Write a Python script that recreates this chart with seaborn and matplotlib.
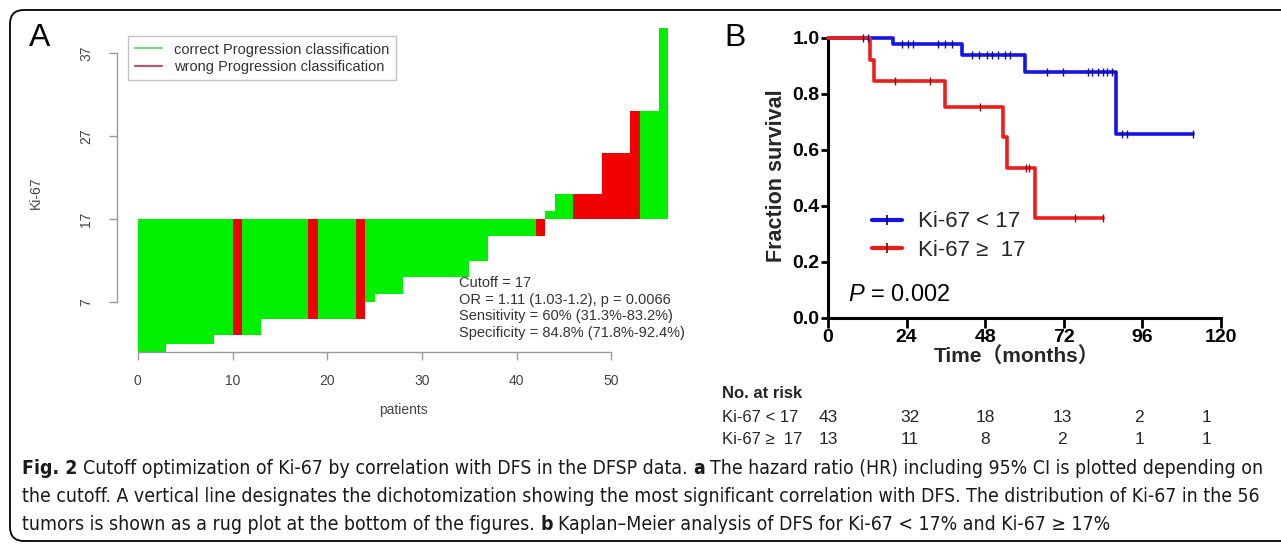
import numpy as np
import pandas as pd
import matplotlib
matplotlib.use("Agg")
import matplotlib.pyplot as plt
import seaborn as sns
from matplotlib.lines import Line2D
from matplotlib.patches import FancyBboxPatch
from matplotlib.transforms import IdentityTransform
from matplotlib import font_manager as fm

# ---------------- Panel A data ----------------
cutoff = 17
ki67_values = [1, 1, 1, 2, 2, 2, 2, 2, 3, 3, 3, 3, 3,
               5, 5, 5, 5, 5, 5, 5, 5, 5, 5, 5, 7, 8, 8, 8,
               10, 10, 10, 10, 10, 10, 10, 12, 12,
               15, 15, 15, 15, 15, 15, 18, 20, 20, 20, 20, 20,
               25, 25, 25, 30, 30, 30, 40]
# c = correct Progression classification, w = wrong
class_codes = list("ccccccccccwcccccccwccccwccccccccccccccccccwcccwwwwwwwccc")
legend_labels_A = ["correct Progression classification", "wrong Progression classification"]
xticks_A = [0, 10, 20, 30, 40, 50]
yticks_A = [7, 17, 27, 37]
stats_text = ["Cutoff = 17", "OR = 1.11 (1.03-1.2), p = 0.0066",
              "Sensitivity = 60% (31.3%-83.2%)", "Specificity = 84.8% (71.8%-92.4%)"]

# ---------------- Panel B data ----------------
low_time = [0, 19.8, 41.0, 60.2, 87.9, 111.5]
low_surv = [1.0, 0.977, 0.939, 0.877, 0.658, 0.658]
low_censor = [10.7, 12.2, 22.6, 24.4, 26.0, 33.6, 35.7, 37.9, 44.0, 46.0, 48.5, 50.0,
              52.0, 54.0, 55.6, 66.9, 71.7, 79.4, 80.6, 82.4, 84.0, 85.2, 86.7,
              89.8, 91.3, 111.5]
high_time = [0, 12.8, 14.0, 35.7, 53.4, 54.7, 63.2, 84.0]
high_surv = [1.0, 0.923, 0.846, 0.752, 0.645, 0.537, 0.358, 0.358]
high_censor = [20.5, 31.1, 46.4, 60.5, 61.5, 75.4, 84.0]
group_labels = ["Ki-67 < 17", "Ki-67 \u2265  17"]
xticks_B = [0, 24, 48, 72, 96, 120]
yticks_B = [0.0, 0.2, 0.4, 0.6, 0.8, 1.0]
risk_low = [43, 32, 18, 13, 2, 1]
risk_high = [13, 11, 8, 2, 1, 1]
risk_x = [0, 25, 48, 71.5, 95, 115.5]

caption_lines = [
    [("Fig. 2", "bold"), ("Cutoff optimization of Ki-67 by correlation with DFS in the DFSP data.", "normal"),
     ("a", "bold"), ("The hazard ratio (HR) including 95% CI is plotted depending on", "normal")],
    [("the cutoff. A vertical line designates the dichotomization showing the most significant correlation with DFS. The distribution of Ki-67 in the 56", "normal")],
    [("tumors is shown as a rug plot at the bottom of the figures.", "normal"), ("b", "bold"),
     ("Kaplan\u2013Meier analysis of DFS for Ki-67 < 17% and Ki-67 \u2265 17%", "normal")],
]

# ---------------- style ----------------
sns.set_style("ticks")
plt.rcParams["font.family"] = ["Liberation Sans", "DejaVu Sans"]
plt.rcParams["mathtext.fontset"] = "custom"
plt.rcParams["mathtext.rm"] = "Liberation Sans"
plt.rcParams["mathtext.it"] = "Liberation Sans:italic"

W, H = 1281, 546
fig = plt.figure(figsize=(W / 100, H / 100), dpi=100)
fig.patch.set_facecolor("white")
PX = IdentityTransform()


def ptext(x, y, s, **kw):
    """Text in pixel coordinates measured from the top-left corner."""
    return fig.text(x, H - y, s, transform=PX, **kw)


# ---------------- Panel A ----------------
axA = fig.add_axes([117 / W, 1 - 352 / H, 572 / W, 327 / H])
dfA = pd.DataFrame({"patient": np.arange(len(ki67_values)) + 0.5,
                    "ki67": ki67_values, "cls": class_codes})
dfA["height"] = dfA["ki67"] - cutoff
palA = {"c": "#00f000", "w": "#f00000"}
sns.barplot(data=dfA, x="patient", y="height", hue="cls", palette=palA, saturation=1,
            native_scale=True, width=1.0, dodge=False, errorbar=None,
            bottom=cutoff, linewidth=0, antialiased=False, legend=False, ax=axA)
axA.set_xlim(-2.2, 58.2)
axA.set_ylim(1.0, 40.4)
axA.set_xticks(xticks_A)
axA.set_yticks(yticks_A)
axA.set_xticklabels([str(v) for v in xticks_A])
axA.set_yticklabels([str(v) for v in yticks_A], rotation=90, va="center")
axA.set_xlabel("")
axA.set_ylabel("")
for s in ["top", "right"]:
    axA.spines[s].set_visible(False)
axA.spines["left"].set_bounds(7, 37)
axA.spines["bottom"].set_bounds(0, 50)
for s in ["left", "bottom"]:
    axA.spines[s].set_color("#9a9a9a")
    axA.spines[s].set_linewidth(1.0)
axA.tick_params(axis="both", colors="#9a9a9a", labelcolor="#444444",
                labelsize=10, length=6, width=1)
axA.tick_params(axis="y", pad=11)
axA.tick_params(axis="x", pad=10)
axA.set_facecolor("white")

handlesA = [Line2D([0], [0], color="#7fd87f", lw=1.6),
            Line2D([0], [0], color="#b05a6a", lw=1.6)]
legA = axA.legend(handlesA, legend_labels_A, loc="upper left",
                  bbox_to_anchor=(128 / W, 1 - 36 / H), bbox_transform=fig.transFigure,
                  borderaxespad=0, fancybox=False, frameon=True, fontsize=10.5,
                  handlelength=1.9, handletextpad=0.8, borderpad=0.45,
                  labelspacing=0.22, labelcolor="#333333")
legA.get_frame().set_edgecolor("#b5b5b5")
legA.get_frame().set_linewidth(1.0)

ptext(459, 308, "\n".join(stats_text), fontsize=10.5, color="#333333",
      ha="left", va="center", linespacing=1.22)
ptext(403, 410, "patients", fontsize=10, color="#444444", ha="center", va="center")
ptext(36, 193, "Ki-67", fontsize=10, color="#444444", ha="center", va="center", rotation=90)
ptext(40, 38, "A", fontsize=23, color="black", ha="center", va="center")

# ---------------- Panel B ----------------
axB = fig.add_axes([828 / W, 1 - 318 / H, 393 / W, 280 / H])
blue = "#1414e6"
red = "#ee1c1c"
sns.lineplot(x=low_time, y=low_surv, drawstyle="steps-post", color=blue, lw=2.6,
             estimator=None, sort=False, ax=axB, clip_on=False, zorder=3)
sns.lineplot(x=high_time, y=high_surv, drawstyle="steps-post", color=red, lw=2.6,
             estimator=None, sort=False, ax=axB, clip_on=False, zorder=3)


def surv_at(times, survs, t):
    idx = np.searchsorted(np.asarray(times), t, side="right") - 1
    return survs[idx]


low_cs = [surv_at(low_time, low_surv, t) for t in low_censor]
high_cs = [surv_at(high_time, high_surv, t) for t in high_censor]
sns.scatterplot(x=low_censor, y=low_cs, marker="|", s=30, color="#101080",
                linewidth=1.0, ax=axB, clip_on=False, zorder=4)
sns.scatterplot(x=high_censor, y=high_cs, marker="|", s=30, color="#901010",
                linewidth=1.0, ax=axB, clip_on=False, zorder=4)

axB.set_xlim(0, 120)
axB.set_ylim(0, 1.0)
axB.set_xticks(xticks_B)
axB.set_yticks(yticks_B)
axB.set_xticklabels([str(v) for v in xticks_B])
axB.set_yticklabels([f"{v:.1f}" for v in yticks_B])
axB.set_xlabel("")
axB.set_ylabel("")
for s in ["top", "right"]:
    axB.spines[s].set_visible(False)
for s in ["left", "bottom"]:
    axB.spines[s].set_color("black")
    axB.spines[s].set_linewidth(2.2)
axB.tick_params(axis="both", colors="black", labelsize=14, width=2.0, direction="out")
axB.tick_params(axis="y", length=5, pad=1)
axB.tick_params(axis="x", length=7, pad=1)
for lab in axB.get_xticklabels() + axB.get_yticklabels():
    lab.set_fontweight("bold")
axB.set_facecolor("white")

handlesB = [Line2D([0], [0], color=blue, lw=3, marker="|", markersize=7, mew=1.3, mec="#101080"),
            Line2D([0], [0], color=red, lw=3, marker="|", markersize=7, mew=1.3, mec="#901010")]
legB = axB.legend(handlesB, group_labels, loc="center left",
                  bbox_to_anchor=(872 / W, 1 - 236 / H), bbox_transform=fig.transFigure,
                  borderaxespad=0, borderpad=0, frameon=False, fontsize=16,
                  handlelength=1.35, handletextpad=0.7, labelspacing=0.32, numpoints=1)

ptext(848, 295, r"$P$ = 0.002", fontsize=17, color="black", ha="left", va="center")
ptext(776, 176, "Fraction survival", fontsize=15.5, fontweight="bold", ha="center",
      va="center", rotation=90)
ptext(1017, 362, "Time\uff08months\uff09", fontsize=15, fontweight="bold",
      family=["Liberation Sans", "Noto Sans CJK SC", "DejaVu Sans"], ha="center", va="baseline")
ptext(735, 38, "B", fontsize=23, color="black", ha="center", va="center")

# risk table
def x_px(month):
    return 828 + month * 393 / 120

ptext(722, 394, "No. at risk", fontsize=12, fontweight="bold", ha="left", va="center")
ptext(722, 417, group_labels[0].replace("  ", " "), fontsize=12, ha="left", va="center")
ptext(722, 440, group_labels[1], fontsize=12, ha="left", va="center")
for xm, a, b in zip(risk_x, risk_low, risk_high):
    ptext(x_px(xm), 417, str(a), fontsize=12.5, ha="center", va="center")
    ptext(x_px(xm), 440, str(b), fontsize=12.5, ha="center", va="center")

# ---------------- caption ----------------
names = {f.name for f in fm.fontManager.ttflist}
if "Liberation Sans Narrow" in names:
    cap_kw = dict(family=["Liberation Sans Narrow", "DejaVu Sans"])
else:
    cap_kw = dict(family=["DejaVu Sans"], stretch="condensed")
renderer = fig.canvas.get_renderer()


def text_width(s, size, weight):
    t = fig.text(0, 0, s, transform=PX, fontsize=size, fontweight=weight, **cap_kw)
    w = t.get_window_extent(renderer).width
    t.remove()
    return w


def line_width(pieces, size):
    sp = text_width("x x", size, "normal") - text_width("xx", size, "normal")
    return sum(text_width(s, size, w) for s, w in pieces) + sp * (len(pieces) - 1), sp


w0, _ = line_width(caption_lines[0], 12)
cap_size = 12 * 1240 / w0
cap_y = [469, 497, 524]
for pieces, yc in zip(caption_lines, cap_y):
    _, sp = line_width(pieces, cap_size)
    x = 22
    for s, w in pieces:
        t = ptext(x, yc, s, fontsize=cap_size, fontweight=w, color="#1a1a1a",
                  ha="left", va="center", **cap_kw)
        x = t.get_window_extent(renderer).x1 + sp

# ---------------- frame ----------------
frame = FancyBboxPatch((10, 5), 1300, H - 15, boxstyle="round,pad=0,rounding_size=14",
                       transform=PX, fill=False, edgecolor="black", linewidth=1.3)
fig.add_artist(frame)

fig.savefig("out.png", dpi=100, facecolor="white")
